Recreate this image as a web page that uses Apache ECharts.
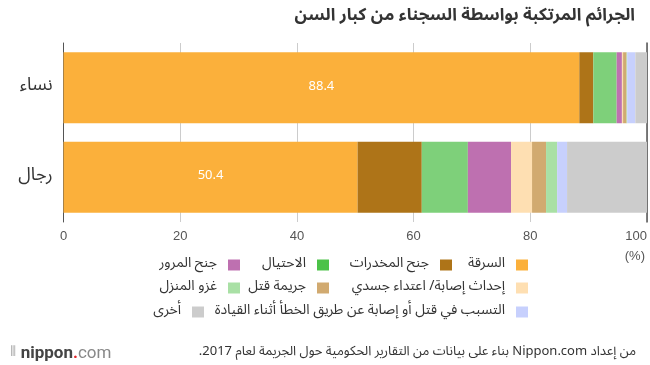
<!DOCTYPE html>
<html><head><meta charset="utf-8">
<script src="https://cdn.jsdelivr.net/npm/echarts@6/dist/echarts.min.js"></script>
<style>html,body{margin:0;padding:0;background:#fff}#c{width:650px;height:365px}</style>
</head><body><div id="c"></div>
<script>
const FONT = '"Noto Sans Arabic","DejaVu Sans","Noto Sans",sans-serif';
const categories = ['نساء', 'رجال'];
const seriesNames = ['السرقة','جنح المخدرات','الاحتيال','جنح المرور','إحداث إصابة/ اعتداء جسدي','جريمة قتل','غزو المنزل','التسبب في قتل أو إصابة عن طريق الخطأ أثناء القيادة','أخرى'];
const women = [88.4, 2.4, 4.0, 0.9, 0.2, 0.6, 0.1, 1.4, 2.0];
const men   = [50.4, 11.0, 7.9, 7.4, 3.6, 2.4, 1.9, 1.7, 13.7];
const xTicks = [0, 20, 40, 60, 80, 100];
const barColors = ['#FBB03B','#AE7418','#7ED07A','#BE70B0','#FEDFB2','#D1AA70','#A9E0A5','#C7D0FD','#CCCCCC'];
const legendColors = ['#FBB03B','#AE7418','#4CC248','#BE70B0','#FEDFB2','#D1AA70','#A9E0A5','#C7D0FD','#CCCCCC'];
// legend placement: [right offset, top]
const legendPos = [[122,258],[198,258],[321,258],[410,258],[122,281],[321,281],[410,281],[122,305],[446,305]];

const chart = echarts.init(document.getElementById('c'));
const series = seriesNames.map((n, i) => ({
  name: n, type: 'bar', stack: 'all', barWidth: 71,
  itemStyle: { color: barColors[i] },
  label: i === 0 ? { show: true, position: 'inside', color: '#fff', fontSize: 13, fontFamily: FONT, formatter: p => p.value.toFixed(1) } : { show: false },
  data: [women[i], men[i]]
}));
const legends = seriesNames.map((n, i) => ({
  data: [{ name: n, itemStyle: { color: legendColors[i] } }],
  right: legendPos[i][0], top: legendPos[i][1],
  align: 'right', orient: 'horizontal', icon: 'rect', itemWidth: 12, itemHeight: 11, itemGap: 0,
  selectedMode: false, padding: 0,
  textStyle: { color: '#333', fontSize: 14, fontFamily: FONT, padding: [0, 6, 0, 0] }
}));
chart.setOption({
  animation: false,
  textStyle: { fontFamily: FONT },
  grid: { left: 63.5, right: 3, top: 43, bottom: 143, containLabel: false, outerBoundsMode: 'none' },
  title: [
    { text: 'الجرائم المرتكبة بواسطة السجناء من كبار السن', right: 10, top: 4, textStyle: { fontSize: 17, fontWeight: 'bold', color: '#333', fontFamily: FONT } },
    { text: '\u202Bمن إعداد Nippon.com بناء على بيانات من التقارير الحكومية حول الجريمة لعام 2017.\u202C', right: 9, top: 342, textStyle: { fontSize: 13, fontWeight: 'normal', color: '#333', fontFamily: FONT } },
    { text: '{i|⦀} {a|nippon}{d|.}{b|com}', left: 5, top: 340, textStyle: { fontWeight: 'normal', rich: {
      i: { fontSize: 14, color: '#aaa', fontWeight: 'normal' },
      a: { fontSize: 17, color: '#444', fontFamily: 'Roboto', fontWeight: 'bold' },
      d: { fontSize: 17, color: '#E0262A', fontFamily: 'Roboto', fontWeight: 'bold' },
      b: { fontSize: 17, color: '#888', fontFamily: 'Roboto', fontWeight: 'normal' } } } },
    { text: '(%)', right: 0, top: 245, textStyle: { fontSize: 13, fontWeight: 'normal', color: '#555', fontFamily: 'Liberation Sans' } }
  ],
  legend: legends,
  xAxis: {
    type: 'value', min: xTicks[0], max: xTicks[xTicks.length - 1], interval: 20,
    axisLine: { show: false }, axisTick: { show: false },
    splitLine: { show: true, lineStyle: { color: '#ccc', width: 1 } },
    axisLabel: { color: '#555', fontSize: 13, margin: 8, fontFamily: 'Liberation Sans', alignMaxLabel: 'right' }
  },
  yAxis: [
    { type: 'category', data: categories, inverse: true,
      axisLine: { show: true, lineStyle: { color: '#555', width: 1 } }, axisTick: { show: false },
      axisLabel: { color: '#333', fontSize: 18, margin: 11, fontFamily: FONT } },
    { type: 'category', data: categories, inverse: true, position: 'right',
      axisLine: { show: true, lineStyle: { color: '#555', width: 1.5 } }, axisTick: { show: false }, axisLabel: { show: false } }
  ],
  series: series
});
</script></body></html>
